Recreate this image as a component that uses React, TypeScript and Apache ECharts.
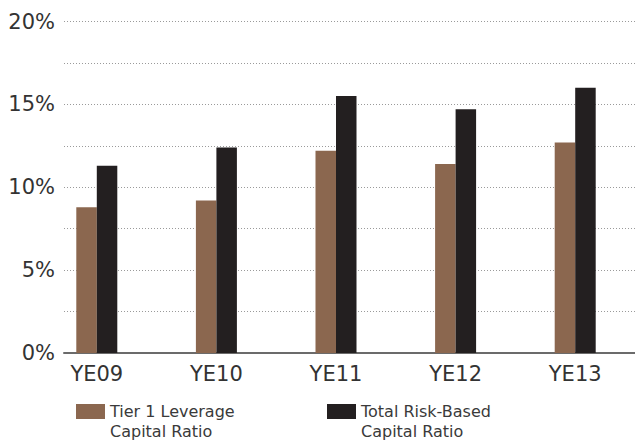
import React, { useEffect, useRef } from "react";
import * as echarts from "echarts";

const categories = ["YE09", "YE10", "YE11", "YE12", "YE13"];
const tier1Leverage = [8.8, 9.2, 12.2, 11.4, 12.7];
const totalRiskBased = [11.3, 12.4, 15.5, 14.7, 16.0];
const seriesNames = ["Tier 1 Leverage\nCapital Ratio", "Total Risk-Based\nCapital Ratio"];

const FONT = "DejaVu Sans";

export default function App() {
  const ref = useRef<HTMLDivElement>(null);
  useEffect(() => {
    if (!ref.current) return;
    const chart = echarts.init(ref.current, null, { renderer: "svg" });
    const legendText = {
      fontFamily: FONT,
      fontSize: 16,
      color: "#3a3a3a",
      lineHeight: 19.5,
    };
    const legendBase = {
      top: 382.25,
      padding: 0,
      itemWidth: 29,
      itemHeight: 15,
      itemGap: 0,
      icon: "rect",
      textStyle: legendText,
      formatter: (name: string) => "\n" + name,
    };
    chart.setOption({
      animation: false,
      backgroundColor: "#ffffff",
      grid: [
        { left: 64, right: 0, top: 21.5, bottom: 88 },
        { left: 37, width: 602, top: 21.5, bottom: 88 },
      ],
      xAxis: [
        {
          gridIndex: 0,
          type: "category",
          data: categories,
          axisLine: { show: true, lineStyle: { color: "#6b6b6b", width: 2 } },
          axisTick: { show: false },
          axisLabel: { show: false },
          splitLine: { show: false },
        },
        {
          gridIndex: 1,
          type: "category",
          data: categories,
          axisLine: { show: false },
          axisTick: { show: false },
          axisLabel: {
            fontFamily: FONT,
            fontSize: 21,
            color: "#333333",
            margin: 10,
          },
          splitLine: { show: false },
        },
      ],
      yAxis: [
        {
          gridIndex: 0,
          type: "value",
          min: 0,
          max: 20,
          interval: 2.5,
          axisLine: { show: false },
          axisTick: { show: false },
          axisLabel: {
            fontFamily: FONT,
            fontSize: 21,
            color: "#333333",
            margin: 9,
            formatter: (v: number) => (v % 5 === 0 ? `${v}%` : ""),
          },
          splitLine: {
            show: true,
            lineStyle: { color: "#9a9a9a", type: [1, 2], width: 1 },
          },
        },
        {
          gridIndex: 1,
          type: "value",
          min: 0,
          max: 20,
          show: false,
        },
      ],
      legend: [
        { ...legendBase, data: [seriesNames[0]], left: 76 },
        { ...legendBase, data: [seriesNames[1]], left: 327 },
      ],
      series: [
        {
          name: seriesNames[0],
          type: "bar",
          xAxisIndex: 1,
          yAxisIndex: 1,
          data: tier1Leverage,
          barWidth: 20.5,
          barGap: "0%",
          itemStyle: { color: "#8b674f" },
        },
        {
          name: seriesNames[1],
          type: "bar",
          xAxisIndex: 1,
          yAxisIndex: 1,
          data: totalRiskBased,
          barWidth: 20.5,
          barGap: "0%",
          itemStyle: { color: "#231f20" },
        },
      ],
    });
    return () => chart.dispose();
  }, []);
  return (
    <div
      ref={ref}
      style={{ position: "absolute", left: 0, top: 0, width: 635, height: 441 }}
    />
  );
}
